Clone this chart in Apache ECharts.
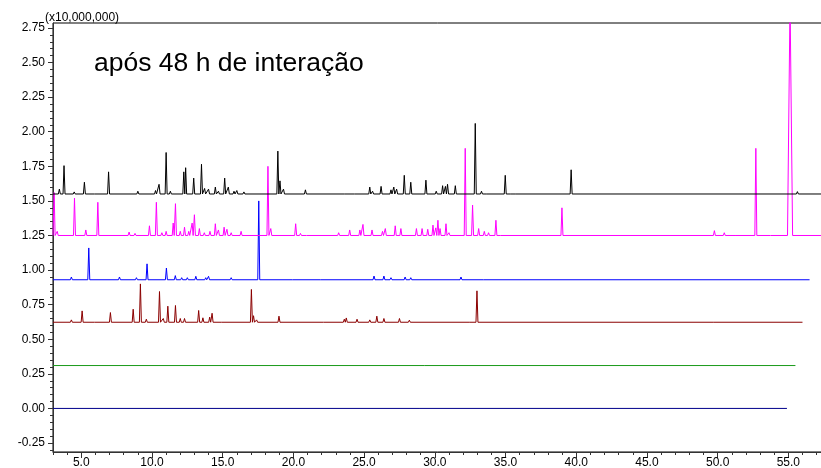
<!DOCTYPE html>
<html>
<head>
<meta charset="utf-8">
<script src="https://cdn.jsdelivr.net/npm/echarts@6/dist/echarts.min.js"></script>
<style>
html,body{margin:0;padding:0;background:#fff;}
#chart{width:821px;height:468px;}
</style>
</head>
<body>
<div id="chart"></div>
<script>
// tempo de retenção (min) x intensidade (x10,000,000)
var xTicks = [5, 10, 15, 20, 25, 30, 35, 40, 45, 50, 55];
var yTicks = [-0.25, 0, 0.25, 0.5, 0.75, 1.0, 1.25, 1.5, 1.75, 2.0, 2.25, 2.5, 2.75];

// [inicio, fim, linha de base]
var blackRange = [3, 57.45, 1.55];
var magentaRange = [3, 57.45, 1.25];
var blueRange = [3, 56.5, 0.93];
var redRange = [3, 56.0, 0.623];
var greenRange = [3, 55.5, 0.31];
var navyRange = [3, 54.9, 0.0];

// picos [tempo, altura] (largura opcional)
var blackPeaks = [[3.45,1.585],[3.78,1.755],[4.5,1.565],[5.22,1.635],[6.0,1.56],[6.93,1.71],[9.0,1.57],[10.25,1.575],[10.5,1.62],[11.0,1.85],[11.3,1.57],[12.25,1.71],[12.38,1.74],[12.95,1.665],[13.5,1.765],[13.72,1.59],[14.0,1.585],[14.48,1.6],[14.7,1.57],[15.14,1.665],[15.4,1.6],[15.8,1.57],[16.0,1.575],[16.5,1.565],[18.9,1.86],[19.05,1.645],[19.3,1.585],[20.85,1.58],[23.7,1.56],[24.4,1.56],[25.4,1.6],[25.6,1.57],[26.2,1.605],[26.9,1.58],[27.1,1.6],[27.3,1.585],[27.84,1.685],[28.3,1.635],[29.37,1.65],[30.1,1.57],[30.55,1.61],[30.75,1.605],[30.9,1.62],[31.45,1.61],[32.86,2.06],[33.3,1.57],[33.7,1.56],[34.98,1.685],[35.4,1.56],[35.8,1.555],[39.64,1.725],[55.64,1.567]];
var magentaPeaks = [[3.08,1.56],[3.3,1.28],[4.52,1.52],[5.32,1.29],[6.17,1.49],[8.38,1.275],[8.8,1.265],[9.82,1.32],[10.31,1.49],[10.7,1.27],[11.0,1.28],[11.5,1.34],[11.66,1.48],[12.0,1.28],[12.3,1.31],[12.6,1.28],[12.84,1.34],[13.0,1.4],[13.35,1.3],[13.7,1.27],[14.1,1.28],[14.48,1.335],[14.7,1.29],[15.1,1.31],[15.3,1.295],[15.6,1.27],[16.3,1.28],[18.2,1.75],[18.4,1.3],[20.16,1.335],[20.5,1.265],[21.0,1.26],[23.2,1.27],[23.98,1.29],[24.7,1.29],[24.92,1.33],[25.56,1.29],[26.3,1.28],[26.5,1.3],[27.2,1.32],[27.6,1.3],[28.7,1.3],[29.1,1.3],[29.5,1.295],[29.87,1.325],[30.07,1.305],[30.22,1.36],[30.37,1.3],[30.79,1.335],[31.0,1.27],[32.15,1.88],[32.67,1.47],[33.1,1.3],[33.5,1.28],[33.8,1.27],[34.32,1.36],[34.7,1.26],[38.99,1.45],[49.77,1.285],[50.47,1.27],[51.3,1.255],[52.7,1.88],[53.8,1.257],[55.12,2.95,0.18]];
var bluePeaks = [[4.3,0.95],[5.53,1.16],[7.7,0.95],[8.9,0.945],[9.65,1.045],[11.02,1.015],[11.65,0.96],[12.1,0.945],[12.5,0.945],[13.1,0.955],[13.8,0.945],[14.0,0.955],[15.6,0.945],[17.55,1.5],[20.0,0.94],[22.0,0.94],[25.7,0.957],[26.4,0.957],[26.9,0.945],[27.9,0.95],[28.3,0.945],[31.85,0.95],[33.5,0.94]];
var redPeaks = [[4.3,0.64],[5.06,0.705],[6.0,0.635],[7.06,0.693],[8.67,0.717],[9.18,0.9],[9.6,0.645],[10.53,0.845],[10.8,0.65],[11.12,0.739],[11.66,0.744],[12.0,0.65],[12.3,0.65],[13.3,0.708],[13.6,0.655],[14.08,0.66],[14.25,0.688],[15.0,0.635],[17.03,0.86],[17.18,0.67],[17.4,0.64],[18.98,0.667],[22.2,0.632],[23.6,0.645],[23.74,0.654],[24.5,0.645],[25.4,0.64],[25.9,0.667],[26.4,0.65],[27.5,0.65],[28.2,0.638],[32.5,0.63],[32.98,0.85],[49.8,0.628]];
var greenPeaks = [];
var navyPeaks = [];

// monta a linha: base + picos
function trace(range, peaks){
	var base = range[2];
	var pts = [[range[0], base]];
	for(var i=0;i<peaks.length;i++){
		var p = peaks[i];
		var w = p[2] || 0.07;
		pts.push([p[0]-w, base], [p[0], p[1]], [p[0]+w, base]);
	}
	pts.push([range[1], base]);
	return pts;
}

var xMinor = [], yMinor = [];
for(var i=3;i<=57;i++) xMinor.push(i);
for(var j=-6;j<=55;j++) yMinor.push(+(j*0.05).toFixed(2));

var myChart = echarts.init(document.getElementById('chart'));
var lbl = {fontFamily:'Liberation Sans, Arial', fontSize:12, color:'#000'};
function line(name, color, data){
	return {name:name, type:'line', data:data, symbol:'none', smooth:false,
		lineStyle:{color:color, width:1}, itemStyle:{color:color}, z:2};
}
var option = {
	animation:false,
	backgroundColor:'#fff',
	grid:{left:53, right:-2, top:23, bottom:16, show:true, borderColor:'#000', borderWidth:1,
		containLabel:false, outerBoundsMode:'none'},
	graphic:[
		{type:'text', left:45, top:12, style:{text:'(x10,000,000)', font:'12px Liberation Sans, Arial', fill:'#000'}},
		{type:'text', left:94, top:50, style:{text:'após 48 h de interação', font:'26.5px Liberation Sans, Arial', fill:'#000'}}
	],
	xAxis:[
		{type:'value', min:3, max:57.45,
			axisLine:{show:true, onZero:false, lineStyle:{color:'#333'}},
			axisTick:{show:true, length:6, customValues:xTicks, lineStyle:{color:'#333'}},
			axisLabel:Object.assign({customValues:xTicks, margin:5, formatter:function(v){return v.toFixed(1);}}, lbl),
			splitLine:{show:false}},
		{type:'value', min:3, max:57.45, position:'bottom',
			axisLine:{show:false, onZero:false},
			axisTick:{show:true, length:3, customValues:xMinor, lineStyle:{color:'#333'}},
			axisLabel:{show:false}, splitLine:{show:false}}
	],
	yAxis:[
		{type:'value', min:-0.315, max:2.786,
			axisLine:{show:true, onZero:false, lineStyle:{color:'#333'}},
			axisTick:{show:true, length:5, customValues:yTicks, lineStyle:{color:'#333'}},
			axisLabel:Object.assign({customValues:yTicks, margin:8, formatter:function(v){return v.toFixed(2);}}, lbl),
			splitLine:{show:false}},
		{type:'value', min:-0.315, max:2.786, position:'left',
			axisLine:{show:false, onZero:false},
			axisTick:{show:true, length:3, customValues:yMinor, lineStyle:{color:'#333'}},
			axisLabel:{show:false}, splitLine:{show:false}}
	],
	series:[
		line('navy', '#00008b', trace(navyRange, navyPeaks)),
		line('green', '#1a9a1a', trace(greenRange, greenPeaks)),
		line('red', '#8b0000', trace(redRange, redPeaks)),
		line('blue', '#0000ff', trace(blueRange, bluePeaks)),
		line('magenta', '#ff00ff', trace(magentaRange, magentaPeaks)),
		line('black', '#000000', trace(blackRange, blackPeaks))
	]
};
myChart.setOption(option);
</script>
</body>
</html>
